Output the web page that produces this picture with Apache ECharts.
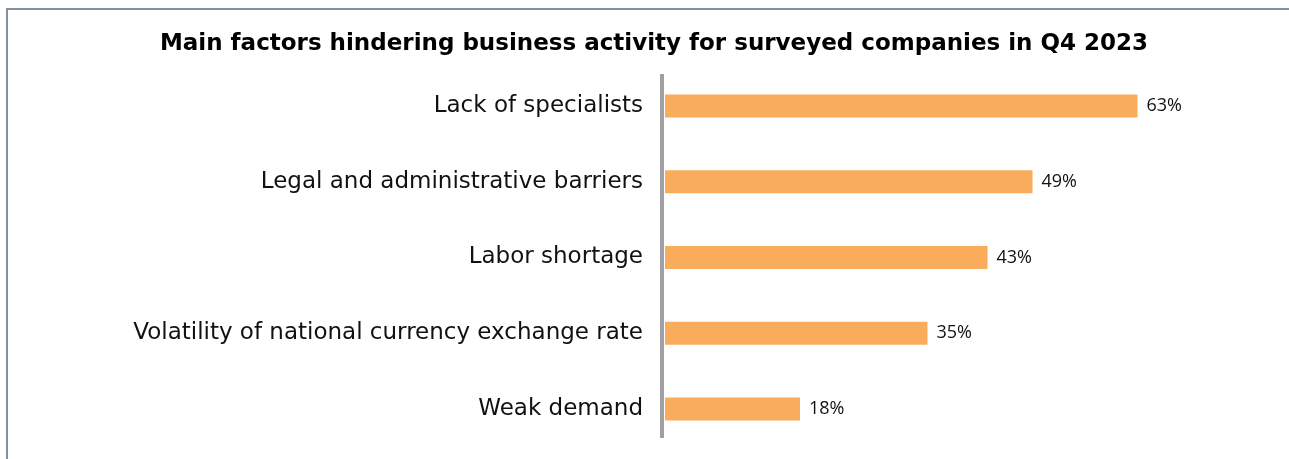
<!DOCTYPE html>
<html>
<head>
<meta charset="utf-8">
<script src="https://cdn.jsdelivr.net/npm/echarts@6/dist/echarts.min.js"></script>
<style>
  html, body { margin: 0; padding: 0; background: #ffffff; }
  #chart { width: 1289px; height: 459px; }
</style>
</head>
<body>
<div id="chart"></div>
<script>
// Survey results: share of companies naming each factor (%)
const categories = [
  'Lack of specialists',
  'Legal and administrative barriers',
  'Labor shortage',
  'Volatility of national currency exchange rate',
  'Weak demand'
];
const shares = [63, 49, 43, 35, 18];
const titleText = 'Main factors hindering business activity for surveyed companies in Q4 2023';

const SANS = '"DejaVu Sans", Verdana, sans-serif';
const LABEL_FONT = '"Open Sans", sans-serif';

const chart = echarts.init(document.getElementById('chart'), null, { renderer: 'canvas' });

const option = {
  backgroundColor: '#ffffff',
  animation: false,
  title: {
    text: titleText,
    left: 649,
    top: 28,
    textAlign: 'center',
    textStyle: {
      fontFamily: SANS,
      fontWeight: 'bold',
      fontSize: 23,
      color: '#000000'
    }
  },
  grid: {
    left: 665,
    right: 24,
    top: 68,
    bottom: 12,
    containLabel: false
  },
  xAxis: {
    type: 'value',
    min: 0,
    max: 80,
    show: false
  },
  yAxis: {
    type: 'category',
    data: categories,
    inverse: true,
    axisLine: { show: false },
    axisTick: { show: false },
    splitLine: { show: false },
    axisLabel: {
      margin: 22,
      fontFamily: SANS,
      fontSize: 23,
      color: '#111111'
    }
  },
  series: [{
    type: 'bar',
    data: shares,
    barWidth: 23,
    itemStyle: { color: '#F9AC5C' },
    label: {
      show: true,
      position: 'right',
      distance: 9,
      formatter: '{c}%',
      fontFamily: LABEL_FONT,
      fontSize: 18,
      color: '#111111'
    }
  }]
};

chart.setOption(option);

// Outer frame and the vertical baseline at zero
const zeroX = chart.convertToPixel({ xAxisIndex: 0 }, 0);
chart.setOption({
  graphic: [
    {
      type: 'polyline',
      shape: { points: [[7, 470], [7, 9], [1300, 9]] },
      style: { stroke: '#85919c', lineWidth: 2, fill: null },
      silent: true
    },
    {
      type: 'line',
      shape: { x1: zeroX - 3, y1: 74, x2: zeroX - 3, y2: 438 },
      style: { stroke: '#a0a0a2', lineWidth: 4 },
      silent: true,
      z: 10
    }
  ]
});
</script>
</body>
</html>
